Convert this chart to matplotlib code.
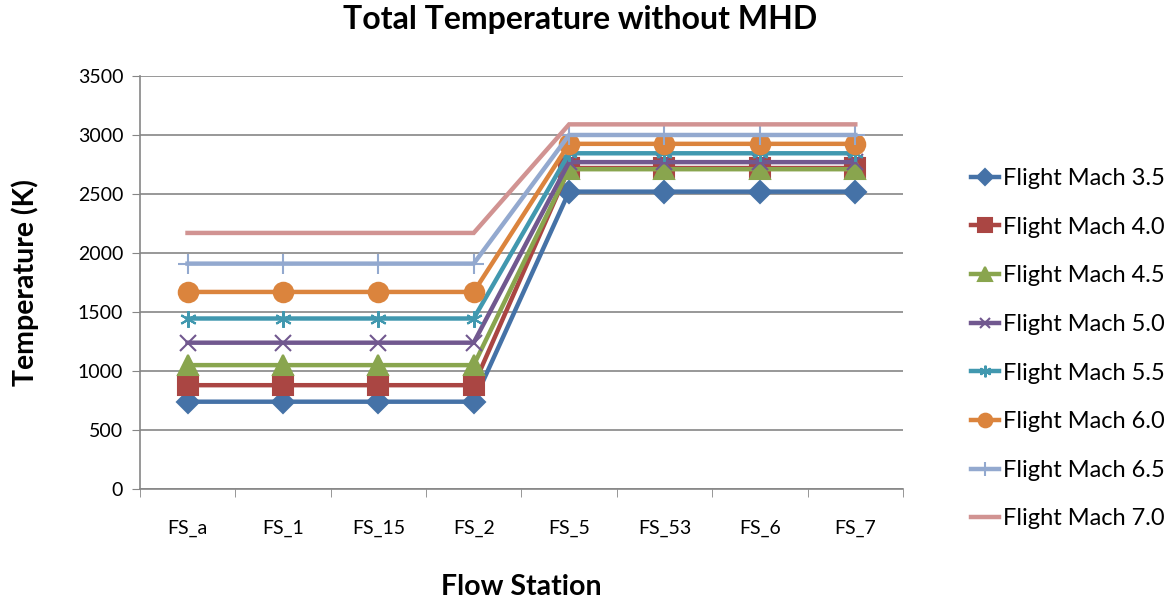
import matplotlib.pyplot as plt

stations = ["FS_a", "FS_1", "FS_15", "FS_2", "FS_5", "FS_53", "FS_6", "FS_7"]

mach_35 = [740, 740, 740, 740, 2520, 2520, 2520, 2520]
mach_40 = [880, 880, 880, 880, 2720, 2720, 2720, 2720]
mach_45 = [1050, 1050, 1050, 1050, 2710, 2710, 2710, 2710]
mach_50 = [1240, 1240, 1240, 1240, 2770, 2770, 2770, 2770]
mach_55 = [1445, 1445, 1445, 1445, 2845, 2845, 2845, 2845]
mach_60 = [1670, 1670, 1670, 1670, 2925, 2925, 2925, 2925]
mach_65 = [1910, 1910, 1910, 1910, 3000, 3000, 3000, 3000]
mach_70 = [2170, 2170, 2170, 2170, 3090, 3090, 3090, 3090]

series_labels = ["Flight Mach 3.5", "Flight Mach 4.0", "Flight Mach 4.5",
                 "Flight Mach 5.0", "Flight Mach 5.5", "Flight Mach 6.0",
                 "Flight Mach 6.5", "Flight Mach 7.0"]

plt.rcParams["font.family"] = ["Lato", "DejaVu Sans"]

# Excel 2007 style palette and markers
colors = ["#4572A7", "#AA4643", "#89A54E", "#71588F",
          "#4198AF", "#DB843D", "#93A9CF", "#D19392"]
markers = ["D", "s", "^", "x", (6, 2, 0), "o", "+", None]
sizes = [11, 14, 14, 11, 12, 14, 14, 0]

fig = plt.figure(figsize=(11.75, 6.03), dpi=100)
ax = fig.add_axes([0.119, 0.189, 0.6495, 0.685])

x = list(range(len(stations)))
all_series = [mach_35, mach_40, mach_45, mach_50,
              mach_55, mach_60, mach_65, mach_70]
for vals, lab, c, m, s in zip(all_series, series_labels, colors, markers, sizes):
    ax.plot(x, vals, color=c, lw=3.2, marker=m, markersize=s,
            markeredgewidth=1.5, markeredgecolor=c, label=lab,
            solid_joinstyle="miter")

ax.set_xlim(-0.5, len(stations) - 0.5)
ax.set_ylim(0, 3500)
ax.set_yticks(range(0, 3501, 500))
ax.set_xticks(x)
ax.set_xticklabels(stations)
ax.set_xticks([i - 0.5 for i in range(len(stations) + 1)], minor=True)
ax.tick_params(axis="x", which="major", length=0, pad=22, labelsize=14)
ax.tick_params(axis="x", which="minor", length=6, color="#868686")
ax.tick_params(axis="y", length=6, color="#868686", labelsize=14, pad=6)

ax.grid(axis="y", color="#868686", lw=1.2)
ax.set_axisbelow(True)
for side in ["top", "right"]:
    ax.spines[side].set_visible(False)
for side in ["left", "bottom"]:
    ax.spines[side].set_color("#868686")
    ax.spines[side].set_linewidth(1.2)

ax.set_xlabel("Flow Station", fontsize=20.5, fontweight="bold", labelpad=27)
ax.set_ylabel("Temperature (K)", fontsize=20.5, fontweight="bold", labelpad=28)
fig.text(0.494, 0.968, "Total Temperature without MHD", fontsize=23,
         fontweight="bold", ha="center", va="center")

fig.legend(loc="center left", bbox_to_anchor=(0.808, 0.4216), frameon=False,
           fontsize=17, handlelength=1.2, labelspacing=1.17, handletextpad=0.15,
           markerscale=0.7)

fig.savefig("out.png", dpi=100)
